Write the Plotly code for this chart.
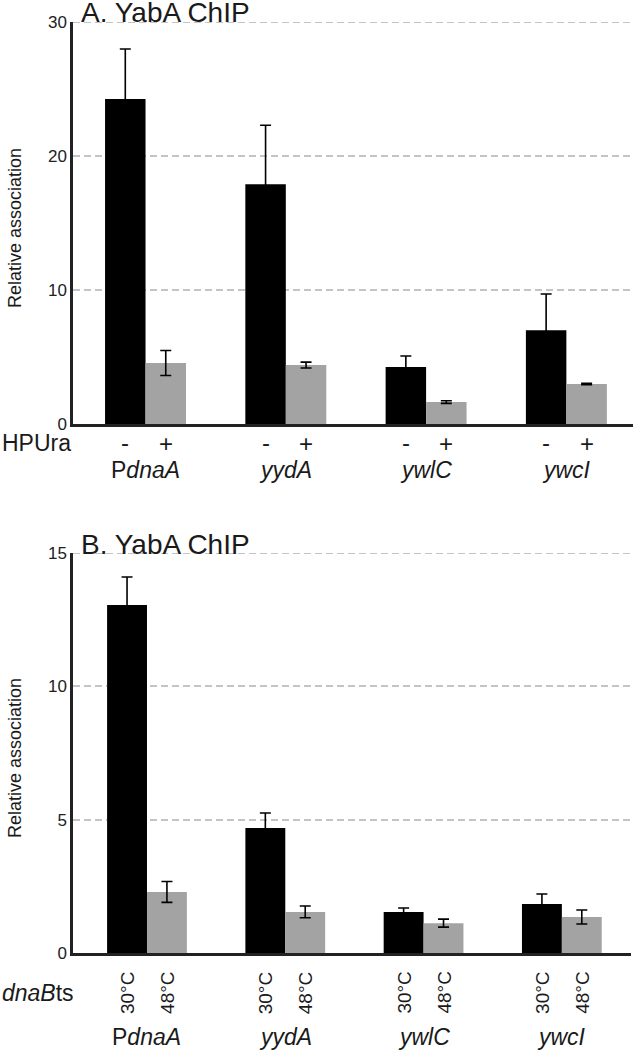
import plotly.graph_objects as go

genes = ["P<i>dnaA</i>", "<i>yydA</i>", "<i>ywlC</i>", "<i>ywcI</i>"]
idx = [0, 1, 2, 3]

# Panel A: HPUra - / +
a_minus = [24.25, 17.9, 4.25, 7.0]
a_minus_err = [3.74, 4.4, 0.82, 2.7]
a_plus = [4.55, 4.4, 1.64, 2.99]
a_plus_err = [0.93, 0.22, 0.1, 0.05]
a_signs = ["-", "+"]

# Panel B: dnaBts 30°C / 48°C
b_30 = [13.05, 4.69, 1.54, 1.84]
b_30_err = [1.05, 0.56, 0.15, 0.37]
b_48 = [2.29, 1.54, 1.12, 1.35]
b_48_err = [0.39, 0.22, 0.15, 0.26]
b_temps = ["30°C", "48°C"]

a_ticks = [0, 10, 20, 30]
b_ticks = [0, 5, 10, 15]

W, H = 633, 1050
FONT = "Liberation Sans, Arial, sans-serif"
BLACK = "#000000"
GRAY = "#a3a3a3"
AXC = "#222222"
GRIDC = "#c4c4c4"

def px_x(p):
    return p / W

def px_y(p):
    return 1 - p / H

fig = go.Figure()

err_style = dict(type="data", visible=True, color="#000000", thickness=1.6, width=5.5)

fig.add_trace(go.Bar(x=idx, y=a_minus, marker=dict(color=BLACK, line=dict(width=0)),
                     error_y=dict(array=a_minus_err, **err_style), xaxis="x", yaxis="y",
                     showlegend=False))
fig.add_trace(go.Bar(x=idx, y=a_plus, marker=dict(color=GRAY, line=dict(width=0)),
                     error_y=dict(array=a_plus_err, **err_style), xaxis="x", yaxis="y",
                     showlegend=False))
fig.add_trace(go.Bar(x=idx, y=b_30, marker=dict(color=BLACK, line=dict(width=0)),
                     error_y=dict(array=b_30_err, **err_style), xaxis="x2", yaxis="y2",
                     showlegend=False))
fig.add_trace(go.Bar(x=idx, y=b_48, marker=dict(color=GRAY, line=dict(width=0)),
                     error_y=dict(array=b_48_err, **err_style), xaxis="x2", yaxis="y2",
                     showlegend=False))

xax = dict(showgrid=False, zeroline=False, showticklabels=False, ticks="",
           showline=True, linecolor=AXC, linewidth=2.5, fixedrange=True)
yax = dict(showgrid=True, gridcolor=GRIDC, gridwidth=2, griddash="7px,4px",
           zeroline=False, showline=True, linecolor=AXC, linewidth=2.5, ticks="",
           tickfont=dict(family=FONT, size=17, color=AXC), automargin=False)

A_X0, B_X1 = px_x(73), px_x(631)
fig.update_layout(
    width=W, height=H,
    margin=dict(l=0, r=0, t=0, b=0),
    paper_bgcolor="white", plot_bgcolor="white",
    barmode="group", bargap=0.423, bargroupgap=0,
    xaxis=dict(domain=[A_X0, 1], range=[-0.517, 3.475], anchor="y", **xax),
    yaxis=dict(domain=[px_y(424), px_y(22)], range=[0, a_ticks[-1]], tickvals=a_ticks, anchor="x", **yax),
    xaxis2=dict(domain=[A_X0, B_X1], range=[-0.535, 3.5], anchor="y2", **xax),
    yaxis2=dict(domain=[px_y(953), px_y(553)], range=[0, b_ticks[-1]], tickvals=b_ticks, anchor="x2", **yax),
)

# top gridlines (at the upper edge of each axis range)
fig.add_shape(type="line", xref="paper", yref="y", x0=A_X0, x1=1, y0=a_ticks[-1], y1=a_ticks[-1],
              line=dict(color=GRIDC, width=2, dash="7px,4px"), layer="below")
fig.add_shape(type="line", xref="paper", yref="y2", x0=A_X0, x1=B_X1, y0=b_ticks[-1], y1=b_ticks[-1],
              line=dict(color=GRIDC, width=2, dash="7px,4px"), layer="below")

ann = []
def text(x, y, t, size, xref="paper", xanchor="center", angle=0, yanchor="middle"):
    ann.append(dict(x=x, y=y, xref=xref, yref="paper", text=t, showarrow=False,
                    xanchor=xanchor, yanchor=yanchor, textangle=angle,
                    font=dict(family=FONT, size=size, color="#1a1a1a")))

# titles
text(px_x(79), px_y(12), "A. YabA ChIP", 28, xanchor="left")
text(px_x(79), px_y(544), "B. YabA ChIP", 28, xanchor="left")
# y axis titles
text(px_x(15), px_y(228), "Relative association", 18, angle=-90)
text(px_x(15), px_y(758), "Relative association", 18, angle=-90)

off = (1 - 0.423) / 4
# panel A labels
text(0, px_y(443), "HPUra", 23, xanchor="left")
for i, g in zip(idx, genes):
    text(i - off, px_y(442), a_signs[0], 24, xref="x")
    text(i + off, px_y(443), a_signs[1], 24, xref="x")
    text(i, px_y(470), g, 23, xref="x")
# panel B labels
text(0, px_y(993), "<i>dnaB</i>ts", 23, xanchor="left")
for i, g in zip(idx, genes):
    text(i - off, px_y(993), b_temps[0], 19, xref="x2", angle=-90)
    text(i + off, px_y(993), b_temps[1], 19, xref="x2", angle=-90)
    text(i, px_y(1037), g, 23, xref="x2")

fig.update_layout(annotations=ann)
fig.write_html("out.html", config={"displayModeBar": False},
               post_script="document.body.style.margin='0px';")
